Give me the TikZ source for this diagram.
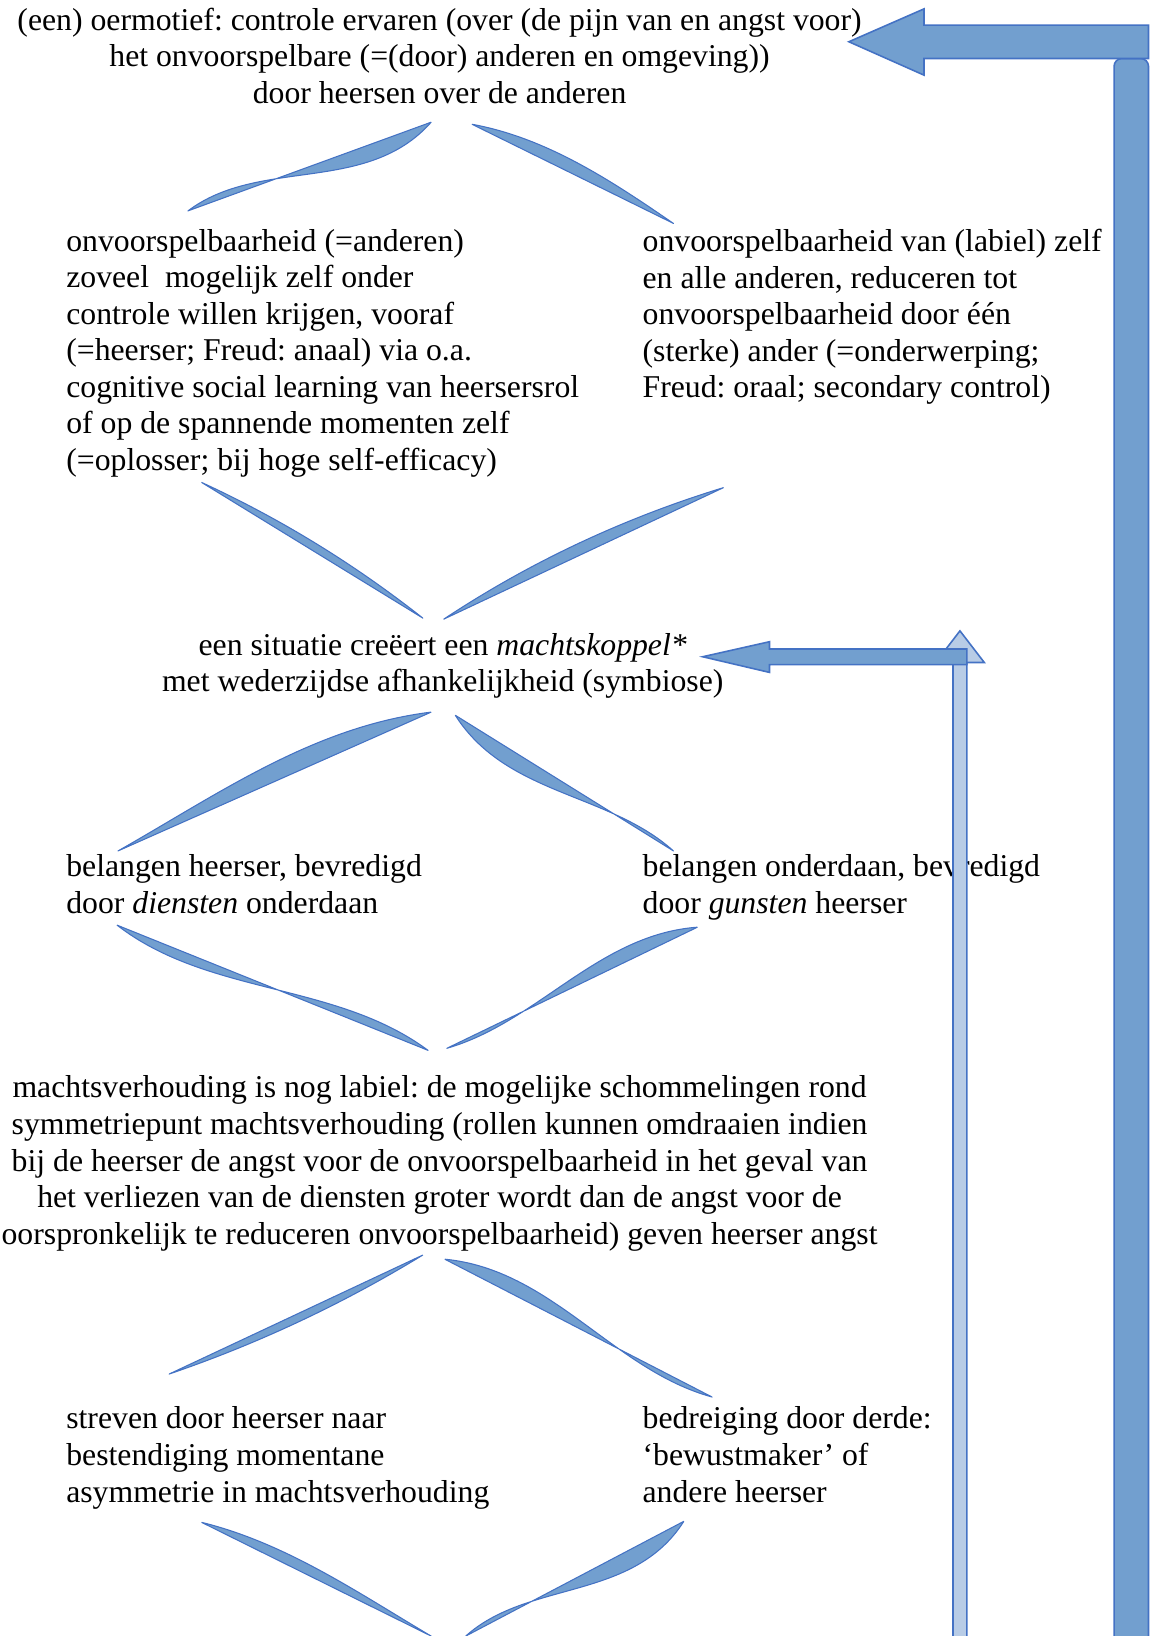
\documentclass[tikz,border=0pt]{standalone}
\usepackage{fontspec}
\setmainfont{Liberation Serif}
\usepackage{tikz}
\definecolor{lensblue}{RGB}{114,159,207}
\definecolor{edgeblue}{RGB}{68,114,196}
\definecolor{lightblue}{RGB}{184,204,230}
\frenchspacing

\begin{document}
\begin{tikzpicture}[x = 0.3948pt, y = -0.3948pt,
    every node/.style = { align = left, inner sep = 0pt, font = \fontsize{12}{13.82}\selectfont\frenchspacing },
    lensshape/.style = { fill = lensblue, draw = edgeblue, line width = 0.4pt, line join = round },
    bigarrow/.style = { fill = lensblue, draw = edgeblue, line width = 0.6pt },
    lightarrow/.style = { fill = lightblue, draw = edgeblue, line width = 0.6pt }]
    \useasboundingbox (0,0) rectangle (1111,1566.9);
    \clip (0,0) rectangle (1111,1566.9);

    \node (oermotief) [anchor = north, align = center] at (421,7)
      { (een) oermotief: controle ervaren (over (de pijn van en angst voor) \\
        het onvoorspelbare (=(door) anderen en omgeving)) \\
        door heersen over de anderen };
    \node (heerser) [anchor = north west] at (63,219)
      { onvoorspelbaarheid (=anderen) \\ zoveel\ \ mogelijk zelf onder \\
        controle willen krijgen, vooraf \\ (=heerser; Freud: anaal) via o.a. \\
        cognitive social learning van heersersrol \\ of op de spannende momenten zelf \\
        (=oplosser; bij hoge self-efficacy) };
    \node (onderdaan) [anchor = north west] at (615,219)
      { onvoorspelbaarheid van (labiel) zelf \\ en alle anderen, reduceren tot \\
        onvoorspelbaarheid door één \\ (sterke) ander (=onderwerping; \\
        Freud: oraal; secondary control) };
    \node (koppel) [anchor = north, align = center] at (424,606)
      { een situatie creëert een \textit{machtskoppel*} \\
        met wederzijdse afhankelijkheid (symbiose) };
    \node (dienst) [anchor = north west] at (63,818)
      { belangen heerser, bevredigd \\ door \textit{diensten} onderdaan };
    \node (gunst) [anchor = north west] at (615,818)
      { belangen onderdaan, bevredigd \\ door \textit{gunsten} heerser };
    \node (labiel) [anchor = north, align = center] at (421,1030)
      { machtsverhouding is nog labiel: de mogelijke schommelingen rond \\
        symmetriepunt machtsverhouding (rollen kunnen omdraaien indien \\
        bij de heerser de angst voor de onvoorspelbaarheid in het geval van \\
        het verliezen van de diensten groter wordt dan de angst voor de \\
        oorspronkelijk te reduceren onvoorspelbaarheid) geven heerser angst };
    \node (bestendig) [anchor = north west] at (63,1347)
      { streven door heerser naar \\ bestendiging momentane \\ asymmetrie in machtsverhouding };
    \node (derde) [anchor = north west] at (615,1347)
      { bedreiging door derde: \\ ‘bewustmaker’ of \\ andere heerser };

    \coordinate (oer-l) at (413,117);     \coordinate (heer-t) at (180,202);
    \coordinate (oer-r) at (452,119);     \coordinate (onder-t) at (645,214);
    \coordinate (heer-b) at (193,462);    \coordinate (kop-l) at (405,592);
    \coordinate (onder-b) at (693,467);   \coordinate (kop-r) at (425,593);
    \coordinate (kopb-l) at (413,682);    \coordinate (dienst-t) at (113,815);
    \coordinate (kopb-r) at (436,685);    \coordinate (gunst-t) at (645,815);
    \coordinate (dienst-b) at (112,886);  \coordinate (lab-l) at (410,1006);
    \coordinate (gunst-b) at (668,888);   \coordinate (lab-r) at (428,1004);
    \coordinate (labb-l) at (405,1202);   \coordinate (best-t) at (162,1316);
    \coordinate (labb-r) at (426,1206);   \coordinate (derde-t) at (682,1338);
    \coordinate (best-b) at (193,1458);   \coordinate (eind-l) at (413,1567);
    \coordinate (derde-b) at (655,1457);  \coordinate (eind-r) at (446,1567);

    \draw[lensshape] (oer-l) -- (heer-t) .. controls +(69,-52) and +(-62,70) .. (oer-l);
    \draw[lensshape] (oer-r) -- (onder-t) .. controls +(-61,-42) and +(71,13) .. (oer-r);
    \draw[lensshape] (heer-b) -- (kop-l) .. controls +(-66,-52) and +(76,35) .. (heer-b);
    \draw[lensshape] (onder-b) -- (kop-r) .. controls +(83,-55) and +(-95,29) .. (onder-b);
    \draw[lensshape] (kopb-l) -- (dienst-t) .. controls +(97,-55) and +(-113,14) .. (kopb-l);
    \draw[lensshape] (kopb-r) -- (gunst-t) .. controls +(-62,-56) and +(49,77) .. (kopb-r);
    \draw[lensshape] (dienst-b) -- (lab-l) .. controls +(-89,-66) and +(88,68) .. (dienst-b);
    \draw[lensshape] (gunst-b) -- (lab-r) .. controls +(87,-25) and +(-95,7) .. (gunst-b);
    \draw[lensshape] (labb-l) -- (best-t) .. controls +(85,-29) and +(-77,47) .. (labb-l);
    \draw[lensshape] (labb-r) -- (derde-t) .. controls +(-95,-26) and +(103,10) .. (labb-r);
    \draw[lensshape] (best-b) -- (eind-l) .. controls +(-71,-42) and +(81,20) .. (best-b);
    \draw[lensshape] (derde-b) -- (eind-r) .. controls +(60,-54) and +(-49,77) .. (derde-b);

    \coordinate (kop-pijl) at (673,629);
    \coordinate (stijg) at (919.4,604.2);
    \coordinate (oer-pijl) at (813,40);

    \draw[lightarrow] (stijg) -- ++(23.3,30.3) -- ++(-16.6,0) -- ++(0,960)
      -- ++(-13.4,0) -- ++(0,-960) -- ++(-16.6,0) -- cycle;
    \draw[bigarrow] (kop-pijl) -- ++(64,-14.4) -- ++(0,7) -- ++(189,0) -- ++(0,15)
      -- ++(-189,0) -- ++(0,7.4) -- cycle;
    \draw[bigarrow, rounded corners = 3pt] (1067,1590) -- (1067,56) -- (1100,56) -- (1100,1590);
    \draw[bigarrow] (oer-pijl) -- ++(72,-31.5) -- ++(0,15.5) -- ++(215,0) -- ++(0,32)
      -- ++(-215,0) -- ++(0,16) -- cycle;
\end{tikzpicture}
\end{document}
